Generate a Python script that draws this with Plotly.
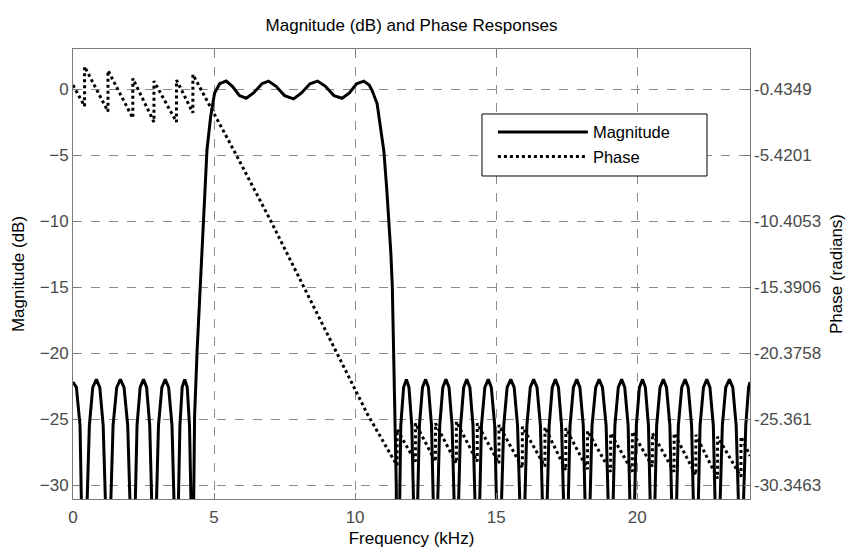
import plotly.graph_objects as go

# ---------------- data ----------------
# Magnitude response (dB) vs frequency (kHz)
mag_freq = [
    0.00, 0.12, 0.25, 0.33,
    0.41, 0.49, 0.58, 0.70, 0.83, 0.95, 1.07, 1.16,
    1.24, 1.33, 1.42, 1.55, 1.68, 1.81, 1.94, 2.03,
    2.12, 2.20, 2.27, 2.38, 2.50, 2.61, 2.72, 2.80,
    2.87, 2.95, 3.03, 3.15, 3.27, 3.39, 3.51, 3.59,
    3.67, 3.73, 3.79, 3.87, 3.96, 4.05, 4.13, 4.19,
    4.24, 4.28, 4.31, 4.40, 4.51, 4.63, 4.75, 4.88, 5.02, 5.20,
    5.43, 5.65, 5.90, 6.14, 6.40, 6.70, 6.93, 7.20, 7.50, 7.82,
    8.10, 8.40, 8.67, 8.95, 9.25, 9.54, 9.80, 10.05, 10.31, 10.50,
    10.60, 10.78, 10.90, 11.02, 11.12, 11.20, 11.27, 11.32, 11.37, 11.43, 11.46,
    11.49, 11.56, 11.62, 11.72, 11.82, 11.91, 12.01, 12.08,
    12.14, 12.21, 12.28, 12.39, 12.50, 12.60, 12.71, 12.78,
    12.85, 12.92, 13.00, 13.11, 13.22, 13.33, 13.44, 13.52,
    13.59, 13.66, 13.74, 13.85, 13.96, 14.07, 14.18, 14.26,
    14.33, 14.41, 14.48, 14.60, 14.72, 14.83, 14.95, 15.02,
    15.10, 15.18, 15.27, 15.39, 15.52, 15.64, 15.76, 15.85,
    15.93, 16.01, 16.09, 16.21, 16.33, 16.45, 16.57, 16.65,
    16.73, 16.80, 16.88, 16.99, 17.10, 17.21, 17.32, 17.40,
    17.47, 17.55, 17.62, 17.74, 17.86, 17.97, 18.09, 18.16,
    18.24, 18.32, 18.40, 18.53, 18.65, 18.77, 18.90, 18.98,
    19.06, 19.14, 19.21, 19.33, 19.45, 19.56, 19.68, 19.75,
    19.83, 19.90, 19.97, 20.08, 20.19, 20.29, 20.40, 20.47,
    20.54, 20.62, 20.69, 20.81, 20.93, 21.04, 21.16, 21.23,
    21.31, 21.39, 21.46, 21.58, 21.70, 21.81, 21.93, 22.00,
    22.08, 22.16, 22.23, 22.35, 22.47, 22.58, 22.70, 22.77,
    22.85, 22.93, 23.02, 23.14, 23.27, 23.39, 23.51, 23.60,
    23.68, 23.76, 23.85, 23.95, 24.00,
]
mag_db = [
    -22.2, -22.6, -25.5, -32.0,
    -45.0, -32.0, -25.5, -22.6, -22.0, -22.6, -25.5, -32.0,
    -45.0, -32.0, -25.5, -22.6, -22.0, -22.6, -25.5, -32.0,
    -45.0, -32.0, -25.5, -22.6, -22.0, -22.6, -25.5, -32.0,
    -45.0, -32.0, -25.5, -22.6, -22.0, -22.6, -25.5, -32.0,
    -45.0, -32.0, -25.5, -22.6, -22.0, -22.6, -25.5, -32.0,
    -45.0, -31.0, -24.8, -19.8, -14.7, -9.7, -4.6, -2.1, -0.3, 0.4,
    0.6, 0.2, -0.5, -0.7, -0.3, 0.4, 0.6, 0.2, -0.5, -0.75,
    -0.3, 0.4, 0.6, 0.2, -0.5, -0.7, -0.3, 0.4, 0.6, 0.3,
    -0.1, -1.1, -2.9, -4.7, -7.5, -10.0, -12.5, -15.0, -19.8, -24.8, -30.0,
    -45.0, -32.0, -25.5, -22.6, -22.0, -22.6, -25.5, -32.0,
    -45.0, -32.0, -25.5, -22.6, -22.0, -22.6, -25.5, -32.0,
    -45.0, -32.0, -25.5, -22.6, -22.0, -22.6, -25.5, -32.0,
    -45.0, -32.0, -25.5, -22.6, -22.0, -22.6, -25.5, -32.0,
    -45.0, -32.0, -25.5, -22.6, -22.0, -22.6, -25.5, -32.0,
    -45.0, -32.0, -25.5, -22.6, -22.0, -22.6, -25.5, -32.0,
    -45.0, -32.0, -25.5, -22.6, -22.0, -22.6, -25.5, -32.0,
    -45.0, -32.0, -25.5, -22.6, -22.0, -22.6, -25.5, -32.0,
    -45.0, -32.0, -25.5, -22.6, -22.0, -22.6, -25.5, -32.0,
    -45.0, -32.0, -25.5, -22.6, -22.0, -22.6, -25.5, -32.0,
    -45.0, -32.0, -25.5, -22.6, -22.0, -22.6, -25.5, -32.0,
    -45.0, -32.0, -25.5, -22.6, -22.0, -22.6, -25.5, -32.0,
    -45.0, -32.0, -25.5, -22.6, -22.0, -22.6, -25.5, -32.0,
    -45.0, -32.0, -25.5, -22.6, -22.0, -22.6, -25.5, -32.0,
    -45.0, -32.0, -25.5, -22.6, -22.0, -22.6, -25.5, -32.0,
    -45.0, -32.0, -25.5, -22.6, -22.0, -22.6, -25.5, -32.0,
    -45.0, -32.0, -25.5, -22.6, -22.2,
]

# Phase response (radians) vs frequency (kHz); repeated frequency = jump
phase_freq = [
    0.00, 0.41, 0.41, 1.24, 1.24, 2.12, 2.12, 2.87, 2.87, 3.67, 3.67, 4.25, 4.25,
    5.69, 6.99, 8.18, 9.30, 10.43, 11.37, 11.49, 11.49,
    12.14, 12.14, 12.85, 12.85, 13.59, 13.59, 14.33, 14.33, 15.10, 15.10,
    15.93, 15.93, 16.73, 16.73, 17.47, 17.47, 18.24, 18.24, 19.06, 19.06,
    19.83, 19.83, 20.54, 20.54, 21.31, 21.31, 22.08, 22.08, 22.85, 22.85,
    23.68, 23.68, 24.00,
]
phase_rad = [
    -0.14, -1.73, 1.26, -2.13, 0.96, -2.63, 0.36, -2.93, 0.16, -2.93, 0.24, -2.23, 0.66,
    -5.02, -10.31, -15.39, -20.18, -24.96, -28.45, -28.85, -26.16,
    -28.58, -25.69, -28.58, -25.69, -28.71, -25.56, -28.58, -25.69, -28.71, -25.81,
    -29.05, -25.94, -28.95, -25.99, -29.21, -26.06, -29.15, -26.26, -29.34, -26.44,
    -29.34, -26.32, -28.95, -26.44, -29.34, -26.44, -29.59, -26.56, -29.85, -26.70,
    -29.72, -26.70, -28.15,
]

x_ticks = [0, 5, 10, 15, 20]
mag_ticks = [-30, -25, -20, -15, -10, -5, 0]
phase_ticks = [-30.3463, -25.361, -20.3758, -15.3906, -10.4053, -5.4201, -0.4349]
phase_tick_text = ["-30.3463", "-25.361", "-20.3758", "-15.3906", "-10.4053", "-5.4201", "-0.4349"]

mag_range = [-31.06, 3.03]
x_range = [0, 24]
# phase axis aligned with magnitude axis (same tick positions)
p_slope = (phase_ticks[-1] - phase_ticks[0]) / (mag_ticks[-1] - mag_ticks[0])
phase_range = [phase_ticks[-1] + p_slope * (mag_range[0] - mag_ticks[-1]),
               phase_ticks[-1] + p_slope * (mag_range[1] - mag_ticks[-1])]

FONT = "Liberation Sans, Arial, sans-serif"
FS = 17
LFS = 16.5
TICKC = "#4a4a4a"
AXC = "#7a7a7a"
GRIDC = "#8c8c8c"

fig = go.Figure()
fig.add_trace(go.Scatter(x=mag_freq, y=mag_db, mode="lines", name="Magnitude",
                         line=dict(color="black", width=3), yaxis="y"))
fig.add_trace(go.Scatter(x=phase_freq, y=phase_rad, mode="lines", name="Phase",
                         line=dict(color="black", width=3, dash="dot"), yaxis="y2"))

# legend frame (white box with black border, as in the reference)
fig.add_shape(type="rect", xref="paper", yref="paper",
              x0=0.6041, x1=0.9365, y0=0.7178, y1=0.8556,
              fillcolor="white", line=dict(color="black", width=1), layer="above")

fig.update_layout(
    width=846, height=550,
    margin=dict(l=73, r=96, t=49, b=51, autoexpand=False),
    paper_bgcolor="white", plot_bgcolor="white",
    font=dict(family=FONT, size=FS, color="black"),
    title=dict(text="Magnitude (dB) and Phase Responses", x=0.4865, xanchor="center",
               y=1 - 25 / 550, yanchor="middle", font=dict(size=FS, color="black")),
    xaxis=dict(range=x_range, tickvals=x_ticks, ticks="inside", ticklen=6, automargin=False,
               tickcolor=AXC, showline=True, linecolor=AXC, linewidth=1, mirror="ticks",
               showgrid=True, gridcolor=GRIDC, griddash="dash", gridwidth=1,
               zeroline=False, tickfont=dict(color=TICKC, size=FS), ticklabelstandoff=3,
               title=dict(text="Frequency (kHz)", standoff=5, font=dict(size=FS))),
    yaxis=dict(range=mag_range, tickvals=mag_ticks, ticks="inside", ticklen=6, automargin=False,
               tickcolor=AXC, showline=True, linecolor=AXC, linewidth=1, mirror=True,
               showgrid=True, gridcolor=GRIDC, griddash="dash", gridwidth=1,
               zeroline=False, tickfont=dict(color=TICKC, size=FS),
               title=dict(text="Magnitude (dB)", standoff=10, font=dict(size=FS))),
    yaxis2=dict(range=phase_range, tickvals=phase_ticks, ticktext=phase_tick_text,
                overlaying="y", side="right", ticks="inside", ticklen=6, tickcolor=AXC,
                automargin=False,
                showline=False, showgrid=False, zeroline=False,
                tickfont=dict(color=TICKC, size=FS), ticklabelstandoff=3,
                title=dict(text="Phase (radians)", standoff=9, font=dict(size=FS))),
    legend=dict(x=0.604, y=0.856, xanchor="left", yanchor="top",
                bgcolor="rgba(0,0,0,0)", bordercolor="rgba(0,0,0,0)", borderwidth=1,
                font=dict(size=LFS, color="black"), itemwidth=90, indentation=10,
                tracegroupgap=0),
    showlegend=True,
)

fig.write_html("out.html")
